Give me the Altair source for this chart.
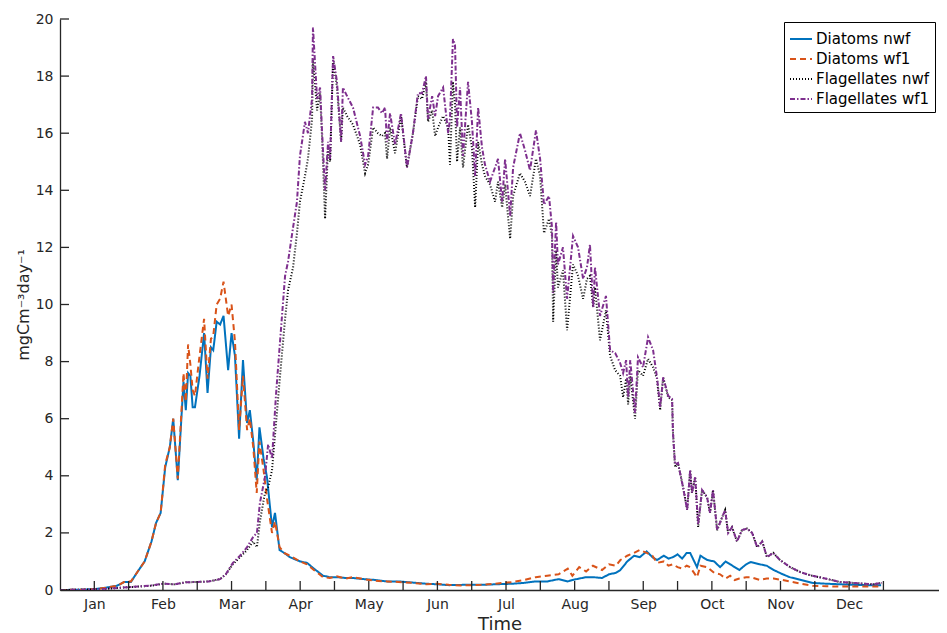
import altair as alt
import pandas as pd

# ---------------- data ----------------
D_DAYS = [0, 8, 15, 20, 25, 28, 31, 34, 37, 40,
          42, 44, 46, 48, 49.5, 51.5, 54, 55, 56, 57,
          58, 59, 61, 63, 64.5, 66, 67, 68.5, 70, 71.5,
          73.5, 75, 76.5, 78.3, 80, 81.8, 83, 84.5, 86, 87.2,
          89, 90.5, 92.7, 94, 96, 98, 100.5, 105, 108, 111,
          115, 118, 121, 125, 128, 133, 138, 143, 148, 154,
          160, 165, 170, 176, 184, 190, 198, 203, 208, 213,
          218, 222, 224, 227, 230, 233, 237, 240, 243, 245,
          248, 251, 253.5, 256.5, 259, 261, 264, 266, 268, 270,
          272, 274, 275.5, 278.5, 280, 283, 286, 288.6, 291, 293,
          295, 297, 300, 302, 306, 309, 312, 316, 319, 324,
          329, 335, 341, 347, 353, 359]
D_NWF = [0, 0.01, 0.03, 0.08, 0.15, 0.28, 0.28, 0.65, 1.0, 1.7,
         2.35, 2.7, 4.3, 5.0, 6.0, 3.85, 7.3, 6.3, 7.6, 7.5,
         6.4, 6.4, 7.5, 9.0, 6.9, 8.5, 8.4, 9.4, 9.3, 9.6,
         7.7, 9.0, 8.2, 5.3, 8.05, 5.85, 6.3, 5.2, 3.85, 5.7,
         4.6, 3.95, 2.2, 2.7, 1.4, 1.3, 1.15, 1.0, 0.95, 0.75,
         0.5, 0.45, 0.45, 0.42, 0.42, 0.38, 0.35, 0.3, 0.3, 0.26,
         0.22, 0.2, 0.17, 0.18, 0.18, 0.2, 0.22, 0.25, 0.3, 0.3,
         0.38, 0.3, 0.35, 0.4, 0.45, 0.45, 0.42, 0.55, 0.6, 0.7,
         1.0, 1.2, 1.15, 1.35, 1.15, 1.05, 1.2, 1.1, 1.15, 1.25,
         1.1, 1.3, 1.3, 0.8, 1.2, 1.05, 1.0, 0.8, 1.0, 0.9,
         0.8, 0.7, 0.9, 0.98, 0.9, 0.85, 0.7, 0.55, 0.45, 0.35,
         0.25, 0.22, 0.2, 0.18, 0.17, 0.17]
D_WF1 = [0, 0.01, 0.03, 0.08, 0.15, 0.28, 0.3, 0.65, 1.0, 1.7,
         2.35, 2.7, 4.4, 5.0, 6.0, 3.9, 7.6, 6.6, 8.6, 7.9,
         7.0, 6.8, 8.2, 9.5, 7.4, 8.8, 8.9, 10.0, 10.2, 10.8,
         9.6, 10.0, 8.7, 5.6, 7.5, 5.6, 6.0, 5.0, 3.4, 5.2,
         4.2, 3.2, 2.0, 2.4, 1.5, 1.3, 1.2, 1.0, 0.9, 0.7,
         0.45, 0.42, 0.48, 0.4, 0.45, 0.38, 0.32, 0.3, 0.28, 0.25,
         0.2, 0.22, 0.18, 0.16, 0.18, 0.22, 0.28, 0.35, 0.45, 0.5,
         0.55, 0.75, 0.5, 0.8, 0.65, 0.85, 0.7, 0.9, 0.85, 1.05,
         1.2, 1.3, 1.4, 1.3, 1.2, 0.95, 1.0, 0.85, 0.9, 0.8,
         0.75, 0.85, 0.8, 0.45, 0.85, 0.8, 0.6, 0.55, 0.4, 0.5,
         0.35, 0.4, 0.45, 0.45, 0.35, 0.4, 0.4, 0.35, 0.3, 0.22,
         0.15, 0.13, 0.12, 0.12, 0.12, 0.12]

F_DAYS = [0, 10, 20, 30, 40, 45, 50, 55, 60, 65,
          70, 72.5, 75.6, 78.7, 81.8, 84.4, 86.1, 87.4, 89.6, 91,
          92.7, 94.4, 96.2, 98.4, 99.7, 101.9, 103.6, 104.9, 107.1, 108.4,
          110.2, 110.6, 112.4, 113.7, 114.6, 115.9, 117.2, 118.1, 119.4, 121.1,
          122.9, 123.7, 125.5, 128.1, 131.2, 133.4, 134.7, 136.9, 139, 140.8,
          142.1, 143, 144.3, 146.5, 149.1, 151.7, 154.3, 156.5, 158.3, 160,
          160.9, 162.7, 164, 165.3, 167.5, 169.7, 170.5, 171.8, 172.7, 173.6,
          174.9, 176.2, 178.4, 180.1, 181.5, 182.8, 184.5, 185.8, 188, 190.2,
          191.5, 193.3, 194.6, 196.8, 198.1, 201.1, 203.3, 205.5, 208.1, 209.9,
          211.6, 213.8, 215.1, 215.6, 216.9, 217.7, 219.9, 221.7, 224.3, 226.5,
          228.7, 230.4, 231.7, 233.1, 233.9, 236.1, 238.7, 240.5, 242.7, 244.9,
          246.2, 247.5, 248.4, 249.3, 251.4, 252.7, 254.9, 257.1, 259.3, 261,
          262.4, 263.7, 265.9, 267.6, 268, 268.9, 270.2, 271.1, 272.4, 274.2,
          275.5, 276.3, 277.7, 279, 280.7, 282.9, 284.2, 285.5, 287.3, 289.5,
          290.8, 292.1, 293.8, 296, 298.2, 300.4, 302.6, 304.8, 307, 309.1,
          311.8, 314.8, 319.2, 323.6, 327.9, 333.6, 341, 348.5, 355.5, 359.4]
F_NWF = [0, 0.01, 0.04, 0.1, 0.15, 0.22, 0.2, 0.27, 0.28, 0.3,
         0.38, 0.55, 0.9, 1.15, 1.4, 1.7, 1.5, 2.4, 3.4, 3.6,
         4.2, 5.8, 7.5, 9.5, 10.5, 11.3, 12.5, 13.6, 14.5, 15.1,
         16.5, 18.6, 16.8, 17.4, 15.8, 13.0, 15.5, 15.0, 18.6, 17.6,
         15.7, 16.9, 16.6, 16.3, 15.6, 14.6, 14.9, 16.2, 16.0, 15.9,
         16.0, 15.1, 16.2, 15.3, 16.6, 14.8, 16.0, 17.3, 17.2, 17.8,
         16.4, 16.8, 15.9, 16.2, 16.6, 16.2, 14.9, 17.8, 17.0, 15.0,
         16.2, 14.8, 16.3, 15.5, 13.4, 15.7, 14.9, 14.5, 14.2, 13.6,
         14.3, 13.4, 14.2, 12.3, 13.8, 14.6, 14.3, 13.8, 15.1, 14.5,
         12.5, 13.0, 12.4, 9.4, 11.9, 10.6, 11.2, 9.1, 11.4, 11.0,
         10.2, 10.9, 11.0, 9.9, 10.6, 8.75, 9.8, 8.2, 7.7, 7.5,
         6.75, 7.4, 6.5, 7.5, 6.0, 7.7, 7.5, 8.1, 7.8, 7.4,
         6.3, 7.45, 6.75, 6.65, 5.5, 4.3, 4.45, 4.1, 3.6, 2.8,
         4.2, 3.4, 3.95, 2.2, 3.5, 3.25, 2.7, 3.5, 2.1, 2.55,
         2.8, 2.0, 2.2, 1.7, 2.1, 2.15, 2.0, 1.5, 1.7, 1.15,
         1.3, 1.05, 0.8, 0.63, 0.52, 0.42, 0.28, 0.24, 0.2, 0.25]
F_WF1 = [0, 0.01, 0.04, 0.1, 0.16, 0.22, 0.2, 0.27, 0.28, 0.3,
         0.38, 0.55, 0.95, 1.2, 1.5, 1.85, 2.0, 3.05, 3.95, 5.1,
         4.6, 6.8, 8.7, 11.0, 11.5, 12.7, 13.6, 15.2, 16.4, 16.0,
         17.2, 19.7, 17.2, 17.6, 16.0, 14.0, 15.7, 15.1, 18.7, 17.8,
         15.7, 17.6, 17.3, 16.9, 15.9, 14.9, 15.2, 16.9, 16.9, 16.7,
         16.9, 15.7, 16.7, 15.6, 16.7, 14.8, 16.0, 17.4, 17.4, 18.0,
         16.5, 17.3, 16.6, 17.3, 17.6, 16.0, 16.5, 19.3, 19.1, 16.2,
         17.6, 15.2, 17.8, 16.4, 14.5, 16.9, 15.5, 14.9, 14.3, 14.8,
         15.1, 13.6, 15.1, 13.1, 14.8, 16.0, 15.4, 14.7, 16.1, 15.1,
         13.5, 13.8, 12.7, 10.4, 12.9, 11.4, 12.0, 10.2, 12.4, 12.0,
         10.9, 11.3, 12.1, 9.9, 11.3, 9.6, 10.3, 8.4, 8.3, 7.95,
         7.6, 8.05, 6.75, 8.05, 6.2, 8.15, 7.8, 8.85, 8.4, 7.45,
         6.4, 7.45, 6.8, 6.7, 5.5, 4.4, 4.45, 4.1, 3.6, 2.8,
         4.2, 3.4, 3.95, 2.3, 3.5, 3.25, 2.7, 3.5, 2.1, 2.55,
         2.8, 2.0, 2.2, 1.7, 2.1, 2.15, 2.0, 1.5, 1.7, 1.15,
         1.3, 1.05, 0.8, 0.63, 0.52, 0.42, 0.28, 0.24, 0.2, 0.25]

SERIES = ["Diatoms nwf", "Diatoms wf1", "Flagellates nwf", "Flagellates wf1"]
MONTHS = ["Jan", "Feb", "Mar", "Apr", "May", "Jun",
          "Jul", "Aug", "Sep", "Oct", "Nov", "Dec"]
LABEL_DAYS = [15, 45, 75, 105, 135, 165, 195, 225, 255, 285, 315, 345]
TICK_DAYS = [15, 30, 45, 60, 75, 90, 105, 120, 135, 150, 165, 180,
             195, 210, 225, 240, 255, 270, 285, 300, 315, 330, 345, 360]
Y_TICKS = [0, 2, 4, 6, 8, 10, 12, 14, 16, 18, 20]

# ---------------- styling ----------------
COLORS = ["#0072BD", "#D95319", "#000000", "#7E2F8E"]
DASHES = [[1, 0], [6, 4], [1, 2], [5, 2, 1.5, 2]]
WIDTHS = [2.0, 2.0, 1.3, 1.6]
AX = "#262626"
FONT = "DejaVu Sans"
W, H = 879, 571

rows = []
for name, days, vals in [(SERIES[0], D_DAYS, D_NWF), (SERIES[1], D_DAYS, D_WF1),
                         (SERIES[2], F_DAYS, F_NWF), (SERIES[3], F_DAYS, F_WF1)]:
    assert len(days) == len(vals), name
    for i, (d, v) in enumerate(zip(days, vals)):
        rows.append({"series": name, "day": d, "value": v, "idx": i})
df = pd.DataFrame(rows)

xscale = alt.Scale(domain=[0, 384.3], nice=False, zero=False)
yscale = alt.Scale(domain=[0, 20], nice=False, zero=True)

month_expr = "[" + ",".join("'%s'" % m for m in MONTHS) + "][round((datum.value-15)/30)]"

legend = alt.Legend(
    title=None, orient="none", legendX=724, legendY=3,
    symbolType="stroke", symbolSize=484, symbolStrokeWidth=1.5,
    labelFontSize=15, labelFont=FONT, labelColor="#000000", labelOffset=3,
    rowPadding=0, padding=5, strokeColor="#000000", fillColor="white",
)

lines = alt.Chart(df).mark_line(clip=True).encode(
    x=alt.X("day:Q", scale=xscale,
            axis=alt.Axis(values=LABEL_DAYS, labelExpr=month_expr, title="Time",
                          tickSize=0, labelPadding=7, titlePadding=4,
                          titleFontSize=18, titleFontWeight="normal")),
    y=alt.Y("value:Q", scale=yscale,
            axis=alt.Axis(values=Y_TICKS, title="mgCm⁻³day⁻¹", tickSize=0,
                          labelPadding=7, titlePadding=4,
                          titleFontSize=16, titleFontWeight="normal")),
    color=alt.Color("series:N", scale=alt.Scale(domain=SERIES, range=COLORS), legend=legend),
    strokeDash=alt.StrokeDash("series:N", scale=alt.Scale(domain=SERIES, range=DASHES), legend=legend),
    strokeWidth=alt.StrokeWidth("series:N", scale=alt.Scale(domain=SERIES, range=WIDTHS), legend=None),
    order="idx:Q",
)

yt = alt.Chart(pd.DataFrame({"value": Y_TICKS})).mark_rule(color=AX, strokeWidth=1.3).encode(
    y=alt.Y("value:Q", scale=yscale), x=alt.value(0), x2=alt.value(9))
xt = alt.Chart(pd.DataFrame({"day": TICK_DAYS})).mark_rule(color=AX, strokeWidth=1.3).encode(
    x=alt.X("day:Q", scale=xscale), y=alt.value(H - 9), y2=alt.value(H))

chart = alt.layer(lines, yt, xt).properties(
    width=W, height=H,
    autosize=alt.AutoSizeParams(type="none"),
    padding={"left": 52, "top": 11, "right": 0, "bottom": 44},
).configure_view(stroke=None).configure_axis(
    grid=False, domainColor=AX, domainWidth=1.3, labelColor=AX, titleColor=AX,
    labelFont=FONT, titleFont=FONT, labelFontSize=14,
).configure_legend(labelFont=FONT)

chart.save("out.html", embed_options={"renderer": "svg", "actions": False})
